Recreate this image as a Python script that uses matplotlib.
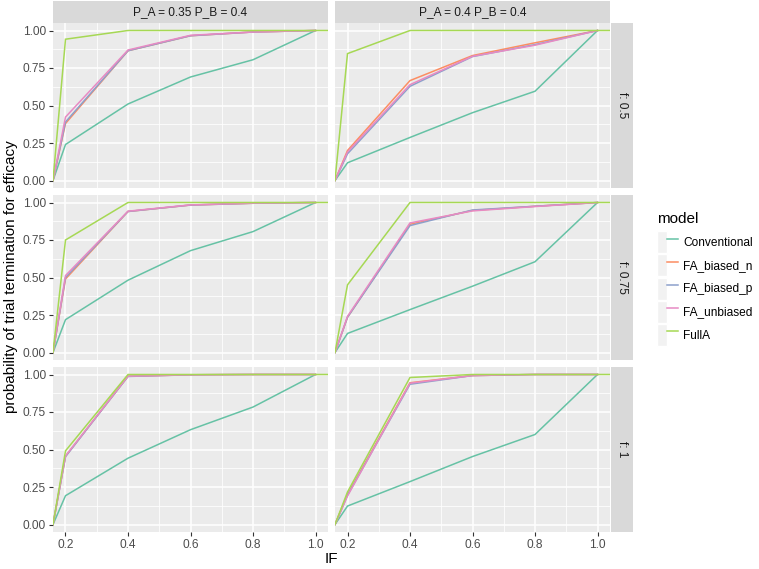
import numpy as np
import matplotlib
matplotlib.use("Agg")
import matplotlib.pyplot as plt
from matplotlib.lines import Line2D
from matplotlib.patches import Patch, Rectangle
from matplotlib.legend_handler import HandlerTuple

plt.rcParams['font.family'] = ['Liberation Sans', 'DejaVu Sans']

# ---------------------------------------------------------------
# datos
# ---------------------------------------------------------------
IF = [0.16, 0.2, 0.4, 0.6, 0.8, 1.0]
IF_full = [0.16, 0.2, 0.4, 0.6, 0.8, 1.0, 1.2]

modelos = ['Conventional', 'FA_biased_n', 'FA_biased_p', 'FA_unbiased', 'FullA']
colores = ['#66C2A5', '#FC8D62', '#8DA0CB', '#E78AC3', '#A6D854']

col_labels = ['P_A = 0.35 P_B = 0.4', 'P_A = 0.4 P_B = 0.4']
row_labels = ['f: 0.5', 'f: 0.75', 'f: 1']

# f = 0.5
conv_05_a = [0, 0.240, 0.510, 0.690, 0.805, 1.0]
bn_05_a = [0, 0.380, 0.865, 0.965, 0.990, 1.0]
bp_05_a = [0, 0.390, 0.865, 0.965, 0.990, 1.0]
ub_05_a = [0, 0.423, 0.870, 0.968, 0.990, 1.0]
full_05_a = [0, 0.942, 1, 1, 1, 1, 1]

conv_05_b = [0, 0.118, 0.287, 0.452, 0.595, 1.0]
bn_05_b = [0, 0.200, 0.666, 0.833, 0.918, 1.0]
bp_05_b = [0, 0.178, 0.628, 0.826, 0.906, 1.0]
ub_05_b = [0, 0.190, 0.639, 0.828, 0.902, 1.0]
full_05_b = [0, 0.846, 1, 1, 1, 1, 1]

# f = 0.75
conv_075_a = [0, 0.219, 0.482, 0.679, 0.806, 1.0]
bn_075_a = [0, 0.490, 0.940, 0.983, 0.995, 1.0]
bp_075_a = [0, 0.500, 0.940, 0.983, 0.995, 1.0]
ub_075_a = [0, 0.513, 0.942, 0.984, 0.996, 1.0]
full_075_a = [0, 0.750, 1, 1, 1, 1, 1]

conv_075_b = [0, 0.127, 0.286, 0.442, 0.605, 1.0]
bn_075_b = [0, 0.235, 0.855, 0.947, 0.975, 1.0]
bp_075_b = [0, 0.235, 0.846, 0.950, 0.975, 1.0]
ub_075_b = [0, 0.241, 0.864, 0.944, 0.973, 1.0]
full_075_b = [0, 0.451, 1, 1, 1, 1, 1]

# f = 1
conv_1_a = [0, 0.192, 0.442, 0.632, 0.783, 1.0]
bn_1_a = [0, 0.455, 0.988, 0.998, 1.0, 1.0]
bp_1_a = [0, 0.452, 0.987, 0.998, 1.0, 1.0]
ub_1_a = [0, 0.457, 0.989, 0.998, 1.0, 1.0]
full_1_a = [0, 0.491, 1, 1, 1, 1, 1]

conv_1_b = [0, 0.123, 0.286, 0.453, 0.600, 1.0]
bn_1_b = [0, 0.200, 0.945, 0.993, 1.0, 1.0]
bp_1_b = [0, 0.195, 0.935, 0.993, 1.0, 1.0]
ub_1_b = [0, 0.190, 0.942, 0.993, 1.0, 1.0]
full_1_b = [0, 0.217, 0.980, 1, 1, 1, 1]

paneles = [
    [[conv_05_a, bn_05_a, bp_05_a, ub_05_a, full_05_a],
     [conv_05_b, bn_05_b, bp_05_b, ub_05_b, full_05_b]],
    [[conv_075_a, bn_075_a, bp_075_a, ub_075_a, full_075_a],
     [conv_075_b, bn_075_b, bp_075_b, ub_075_b, full_075_b]],
    [[conv_1_a, bn_1_a, bp_1_a, ub_1_a, full_1_a],
     [conv_1_b, bn_1_b, bp_1_b, ub_1_b, full_1_b]],
]

# ---------------------------------------------------------------
# figura
# ---------------------------------------------------------------
W, H = 759, 569
fig = plt.figure(figsize=(W / 100, H / 100), dpi=100)

lefts = [53, 335]
tops = [23, 195, 367]
pw, ph = 275, 165
strip = 22

txt_size = 8.6
gris_txt = '#4D4D4D'

def fr(x, y, w, h):
    return [x / W, 1 - (y + h) / H, w / W, h / H]

for i in range(3):
    for j in range(2):
        ax = fig.add_axes(fr(lefts[j], tops[i], pw, ph))
        ax.set_facecolor('#EBEBEB')
        for s in ax.spines.values():
            s.set_visible(False)
        ax.set_xlim(0.16, 1.04)
        ax.set_ylim(-0.05, 1.05)
        ax.set_xticks([0.2, 0.4, 0.6, 0.8, 1.0])
        ax.set_xticks([0.3, 0.5, 0.7, 0.9], minor=True)
        ax.set_yticks([0, 0.25, 0.5, 0.75, 1.0])
        ax.set_yticks([0.125, 0.375, 0.625, 0.875], minor=True)
        ax.grid(which='major', color='white', lw=1.1)
        ax.grid(which='minor', color='white', lw=0.55)
        ax.set_axisbelow(True)
        ax.tick_params(which='major', length=3, width=0.8, color='#333333',
                       labelsize=txt_size, labelcolor=gris_txt, pad=2)
        ax.tick_params(which='minor', length=0)
        if j == 0:
            ax.set_yticklabels(['0.00', '0.25', '0.50', '0.75', '1.00'])
        else:
            ax.tick_params(axis='y', which='major', length=0, labelleft=False)
        if i == 2:
            ax.set_xticklabels(['0.2', '0.4', '0.6', '0.8', '1.0'])
        else:
            ax.tick_params(axis='x', which='major', length=0, labelbottom=False)

        series = paneles[i][j]
        for k in range(5):
            xs = IF_full if modelos[k] == 'FullA' else IF
            ax.plot(xs, series[k], color=colores[k], lw=1.1, solid_joinstyle='miter')

        # strips
        if i == 0:
            fig.patches.append(Rectangle((lefts[j] / W, 1 - tops[0] / H), pw / W, strip / H,
                                         transform=fig.transFigure, facecolor='#D9D9D9',
                                         edgecolor='none'))
            fig.text((lefts[j] + pw / 2) / W, 1 - (tops[0] - strip / 2) / H, col_labels[j],
                     ha='center', va='center', fontsize=txt_size, color='#1A1A1A')
        if j == 1:
            fig.patches.append(Rectangle(((lefts[1] + pw + 1) / W, 1 - (tops[i] + ph) / H),
                                         strip / W, ph / H, transform=fig.transFigure,
                                         facecolor='#D9D9D9', edgecolor='none'))
            fig.text((lefts[1] + pw + 1 + strip / 2) / W, 1 - (tops[i] + ph / 2) / H,
                     row_labels[i], ha='center', va='center', rotation=-90,
                     fontsize=txt_size, color='#1A1A1A')

# titulos de ejes
fig.text(331 / W, 1 - 559 / H, 'IF', ha='center', va='center', fontsize=11, color='black')
fig.text(11 / W, 1 - 277 / H, 'probability of trial termination for efficacy',
         ha='center', va='center', rotation=90, fontsize=11, color='black')

# leyenda
handles = [(Patch(facecolor='#F2F2F2', edgecolor='white', lw=1),
            Line2D([], [], color=c, lw=1.1)) for c in colores]
leg = fig.legend(handles, modelos, title='model', loc='upper left',
                 bbox_to_anchor=(652 / W, 1 - 207 / H), frameon=False,
                 fontsize=txt_size, title_fontsize=11, handlelength=1.75,
                 handleheight=2.45, labelspacing=0.1, handletextpad=0.45,
                 borderaxespad=0, alignment='left',
                 handler_map={tuple: HandlerTuple(ndivide=None, pad=0)})
leg._legend_box.sep = 4
for t in leg.get_texts():
    t.set_color('black')

fig.savefig('out.png', dpi=100, facecolor='white')
